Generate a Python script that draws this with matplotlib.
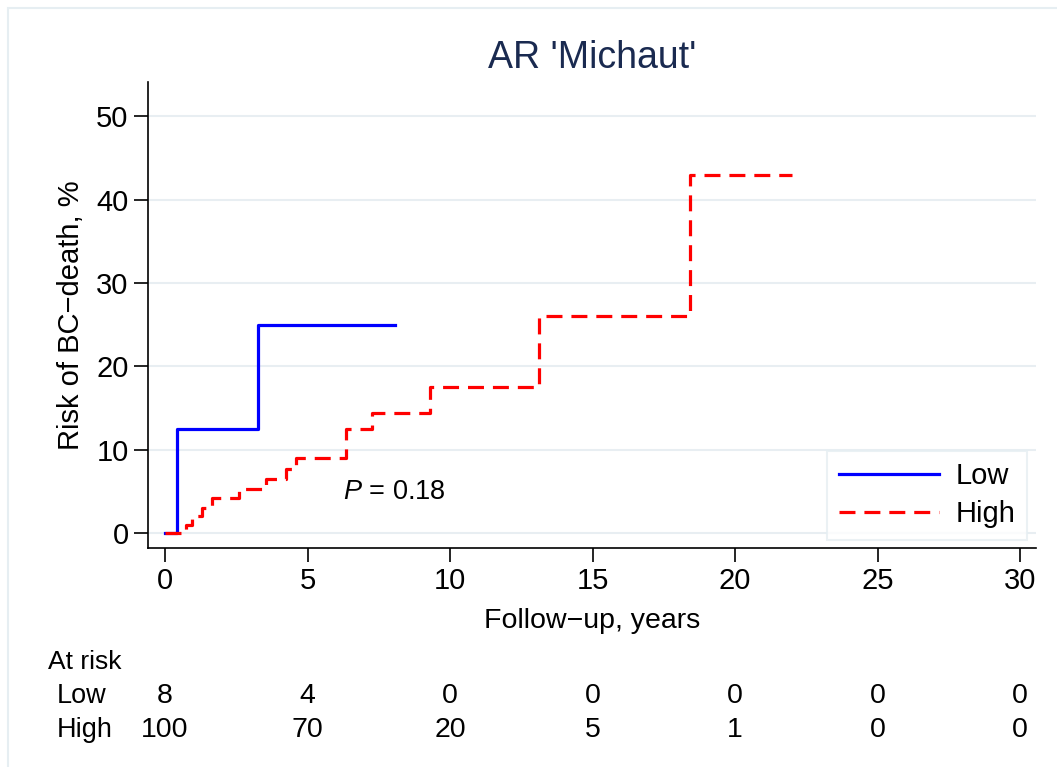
import matplotlib.pyplot as plt
from matplotlib.patches import Rectangle

plt.rcParams['font.family'] = ['Liberation Sans', 'DejaVu Sans']
plt.rcParams['mathtext.fontset'] = 'custom'
plt.rcParams['mathtext.rm'] = 'Liberation Sans'
plt.rcParams['mathtext.it'] = 'Liberation Sans:italic'

# cumulative risk curves (step functions, years / %)
low_t = [0, 0.42, 3.25, 8.05]
low_y = [0, 12.5, 25.0, 25.0]
high_t = [0, 0.72, 0.95, 1.3, 1.65, 2.6, 3.55, 4.25, 4.6, 6.35, 7.25, 9.3, 13.13, 18.4, 22.0]
high_y = [0, 1.0, 2.0, 3.0, 4.2, 5.3, 6.5, 7.7, 9.0, 12.5, 14.4, 17.5, 26.0, 42.9, 42.9]

risk_times = [0, 5, 10, 15, 20, 25, 30]
risk_low = [8, 4, 0, 0, 0, 0, 0]
risk_high = [100, 70, 20, 5, 1, 0, 0]

fig = plt.figure(figsize=(10.57, 7.67), dpi=100)
ax = fig.add_axes([0.140, 0.2855, 0.840, 0.6075])

fig.patches.append(Rectangle((0.008, -0.1), 1.2, 1.089, transform=fig.transFigure,
                             fill=False, edgecolor='#e6eef2', lw=1.5))

ax.plot(low_t, low_y, drawstyle='steps-post', color='#0000ff', lw=2.3, label='Low')
ax.plot(high_t, high_y, drawstyle='steps-post', color='#ff0000', lw=2.3,
        linestyle=(0, (5, 2.8)), label='High')

ax.set_xlim(-0.6, 30.55)
ax.set_ylim(-1.8, 54.1)
ax.set_xticks(risk_times)
ax.set_yticks([0, 10, 20, 30, 40, 50])
ax.yaxis.grid(True, color='#e8eef2', lw=1.5)
ax.set_axisbelow(True)
for s in ['top', 'right']:
    ax.spines[s].set_visible(False)
for s in ['left', 'bottom']:
    ax.spines[s].set_linewidth(1.2)
ax.tick_params(labelsize=21, length=10, width=1.2, pad=4)

ax.set_xlabel('Follow\u2212up, years', fontsize=20.5, labelpad=9)
ax.set_ylabel('Risk of BC\u2212death, %', fontsize=21, labelpad=8)
ax.set_title("AR 'Michaut'", fontsize=27, color='#1a2a50', pad=10)

ax.text(6.25, 4.9, '$P$ = 0.18', fontsize=19.5, va='center', ha='left')

leg = ax.legend(loc='lower right', bbox_to_anchor=(0.99, 0.017), fontsize=21,
                handlelength=3.45, handletextpad=0.55, labelspacing=0.35,
                frameon=True, fancybox=False, borderpad=0.4, borderaxespad=0)
leg.get_frame().set_edgecolor('#e6eef2')
leg.get_frame().set_linewidth(1.5)

# at-risk table
fig.text(0.045, 0.128, 'At risk', fontsize=19, va='baseline')
fig.text(0.054, 0.0834, 'Low', fontsize=19.5, va='baseline')
fig.text(0.054, 0.039, 'High', fontsize=19.5, va='baseline')
for t, a, b in zip(risk_times, risk_low, risk_high):
    x = ax.transData.transform((t, 0))[0] / fig.bbox.width
    fig.text(x, 0.0834, str(a), fontsize=20.5, ha='center', va='baseline')
    fig.text(x, 0.039, str(b), fontsize=20.5, ha='center', va='baseline')

fig.savefig('out.png', dpi=100)
